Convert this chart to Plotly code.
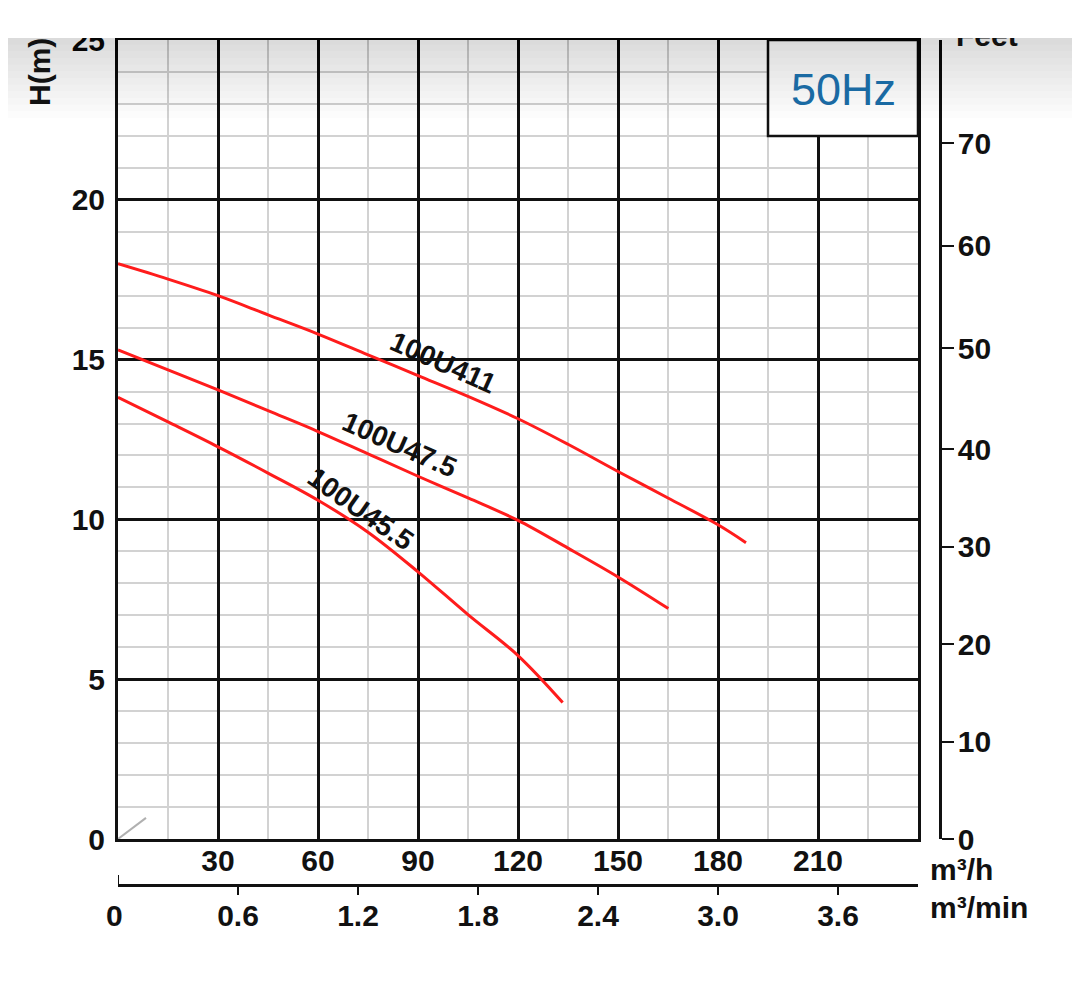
import plotly.graph_objects as go

# ---------------- data ----------------
q_411 = [0, 15, 30, 45, 60, 75, 90, 105, 120, 135, 150, 165, 180, 188.4]
h_411 = [18.0, 17.52, 17.0, 16.4, 15.8, 15.15, 14.5, 13.85, 13.15, 12.35, 11.5, 10.67, 9.83, 9.27]

q_475 = [0, 15, 30, 45, 60, 75, 90, 105, 120, 135, 150, 165.1]
h_475 = [15.3, 14.68, 14.05, 13.4, 12.75, 12.05, 11.35, 10.67, 9.97, 9.1, 8.2, 7.21]

q_455 = [0, 15, 30, 45, 60, 75, 90, 105, 120, 133.4]
h_455 = [13.82, 13.05, 12.27, 11.45, 10.6, 9.6, 8.36, 7.02, 5.74, 4.27]

series_names = ["100U411", "100U47.5", "100U45.5"]

x_ticks = [0, 30, 60, 90, 120, 150, 180, 210, 240]
x_labels = ["", "30", "60", "90", "120", "150", "180", "210", ""]
y_ticks = [0, 5, 10, 15, 20, 25]
y_labels = ["0", "5", "10", "15", "20", "25"]
feet_tick_pos = [0, 10, 20, 30, 40, 50.4, 60.9, 71.4]
feet_labels = ["0", "10", "20", "30", "40", "50", "60", "70"]
min_ticks = [0.6, 1.2, 1.8, 2.4, 3.0, 3.6]
min_labels = ["0.6", "1.2", "1.8", "2.4", "3.0", "3.6"]

# ---------------- layout geometry (reference pixels -> figure) ----------------
OFF = 8                       # page body margin
W, H = 1064, 990
L, T, R = 110, 32, 0
B = H - (946 - OFF)
PW = W - L - R
PH = H - T - B


def fx(p):
    return (p - OFF - L) / PW


def fy(p):
    return (H - B - (p - OFF)) / PH


FONT = "Liberation Sans, Arial, Helvetica, sans-serif"
INK = "#111111"
RED = "#ff1c1c"
TS = 30

fig = go.Figure()

for name, q, h in [(series_names[0], q_411, h_411),
                   (series_names[1], q_475, h_475),
                   (series_names[2], q_455, h_455)]:
    fig.add_trace(go.Scatter(x=q, y=h, mode="lines", name=name,
                             line=dict(color=RED, width=3, shape="spline", smoothing=1.0),
                             showlegend=False, hoverinfo="skip"))

# invisible helpers so the secondary axes are drawn
fig.add_trace(go.Scatter(x=[0], y=[0], xaxis="x2", yaxis="y", mode="markers",
                         marker=dict(opacity=0), showlegend=False, hoverinfo="skip"))
fig.add_trace(go.Scatter(x=[0], y=[0], xaxis="x", yaxis="y2", mode="markers",
                         marker=dict(opacity=0), showlegend=False, hoverinfo="skip"))

tickfont = dict(family=FONT, size=TS, color=INK, weight="bold")

fig.update_layout(
    width=W, height=H,
    margin=dict(l=L, r=R, t=T, b=B, pad=0),
    paper_bgcolor="white", plot_bgcolor="white",
    showlegend=False,
    xaxis=dict(domain=[0, 800 / PW], range=[0, 240], anchor="y",
               tickmode="array", tickvals=x_ticks, ticktext=x_labels,
               showgrid=True, gridcolor=INK, gridwidth=2.5,
               minor=dict(tickmode="linear", tick0=0, dtick=15, showgrid=True,
                          gridcolor="#d2d2d2", gridwidth=2),
               showline=True, linecolor=INK, linewidth=3, mirror=True,
               ticks="", zeroline=False, tickfont=tickfont, automargin=False,
               ticklabelstandoff=-7),
    yaxis=dict(domain=[fy(839), fy(40)], range=[0, 25], anchor="x",
               tickmode="array", tickvals=y_ticks, ticktext=y_labels,
               showgrid=True, gridcolor=INK, gridwidth=2.5,
               minor=dict(tickmode="linear", tick0=0, dtick=1, showgrid=True,
                          gridcolor="#d2d2d2", gridwidth=2),
               showline=True, linecolor=INK, linewidth=3, mirror=True,
               ticks="", zeroline=False, tickfont=tickfont, automargin=False,
               ticklabelstandoff=4),
    yaxis2=dict(overlaying="y", anchor="free", position=fx(940), side="right",
                range=[0, 25 * 3.28084], tickmode="array",
                tickvals=feet_tick_pos, ticktext=feet_labels,
                ticks="outside", ticklen=12, tickwidth=2, tickcolor=INK,
                showline=True, linecolor=INK, linewidth=2.5,
                showgrid=False, zeroline=False, tickfont=tickfont, automargin=False,
                ticklabelstandoff=-2),
    xaxis2=dict(overlaying="x", anchor="free", position=fy(885), side="bottom",
                range=[0, 4.0], tickmode="array", tickvals=min_ticks, ticktext=min_labels,
                ticks="outside", ticklen=8, tickwidth=2, tickcolor=INK,
                showline=True, linecolor=INK, linewidth=2.5,
                showgrid=False, zeroline=False, tickfont=tickfont, automargin=False,
                ticklabelstandoff=-5),
)

shapes = []
# faint diagonal at origin
shapes.append(dict(type="line", xref="x", yref="y", x0=0, y0=0, x1=8.4, y1=0.66,
                   line=dict(color="#b0b0b0", width=2), layer="above"))
# 50Hz box
shapes.append(dict(type="rect", xref="x", yref="y", x0=195, x1=240, y0=22, y1=25,
                   fillcolor="white", line=dict(color=INK, width=2.5), layer="above"))
# upward end tick of the m3/min axis
shapes.append(dict(type="line", xref="x2", yref="paper", x0=0, x1=0,
                   y0=fy(885), y1=fy(875), line=dict(color=INK, width=2)))
# screenshot top gradient
N = 12
for k in range(1, N + 1):
    shapes.append(dict(type="rect", xref="paper", yref="paper",
                       x0=fx(0), x1=fx(1080), y0=fy(38 + 80 * k / N), y1=fy(38),
                       fillcolor="black", opacity=0.01, line=dict(width=0), layer="above"))
# top crop
shapes.append(dict(type="rect", xref="paper", yref="paper",
                   x0=fx(0), x1=fx(1080), y0=fy(38), y1=fy(0),
                   fillcolor="white", line=dict(width=0), layer="above"))
fig.update_layout(shapes=shapes)

bold = dict(family=FONT, size=TS, color=INK, weight="bold")
ann = []
ann.append(dict(text="50Hz", xref="x", yref="y", x=217.5, y=23.44, showarrow=False,
                xanchor="center", yanchor="middle",
                font=dict(family=FONT, size=45, color="#1a6aa3")))
ann.append(dict(text="H(m)", xref="paper", yref="paper", x=fx(40), y=fy(72),
                xanchor="center", yanchor="middle",
                textangle=-90, showarrow=False, font=bold))
ann.append(dict(text="m³/h", xref="paper", yref="paper", x=fx(928), y=fy(869),
                xanchor="left", yanchor="middle", showarrow=False, font=bold))
ann.append(dict(text="m³/min", xref="paper", yref="paper", x=fx(928), y=fy(907),
                xanchor="left", yanchor="middle", showarrow=False, font=bold))
ann.append(dict(text="0", xref="x2", yref="paper", x=0, y=fy(915), xshift=-4,
                xanchor="center", yanchor="middle", showarrow=False, font=bold))
label_pos = [(series_names[0], 97.5, 14.9, 24),
             (series_names[1], 84.3, 12.34, 24),
             (series_names[2], 72.6, 10.34, 35)]
for txt, x, y, a in label_pos:
    ann.append(dict(text=txt, xref="x", yref="y", x=x, y=y, textangle=a,
                    xanchor="center", yanchor="middle", showarrow=False,
                    font=dict(family=FONT, size=28, color=INK, weight="bold")))
# "Feet" title, then a white mask reproducing the cropped top edge
ann.append(dict(text="Feet", xref="paper", yref="paper", x=fx(987), y=fy(36),
                xanchor="center", yanchor="middle", showarrow=False, font=bold))
ann.append(dict(text=" ", xref="paper", yref="paper", x=fx(1000), y=fy(18),
                xanchor="center", yanchor="middle", showarrow=False,
                width=160, height=40, bgcolor="white", borderpad=0, borderwidth=0))
fig.update_layout(annotations=ann)

fig.write_html("out.html")
